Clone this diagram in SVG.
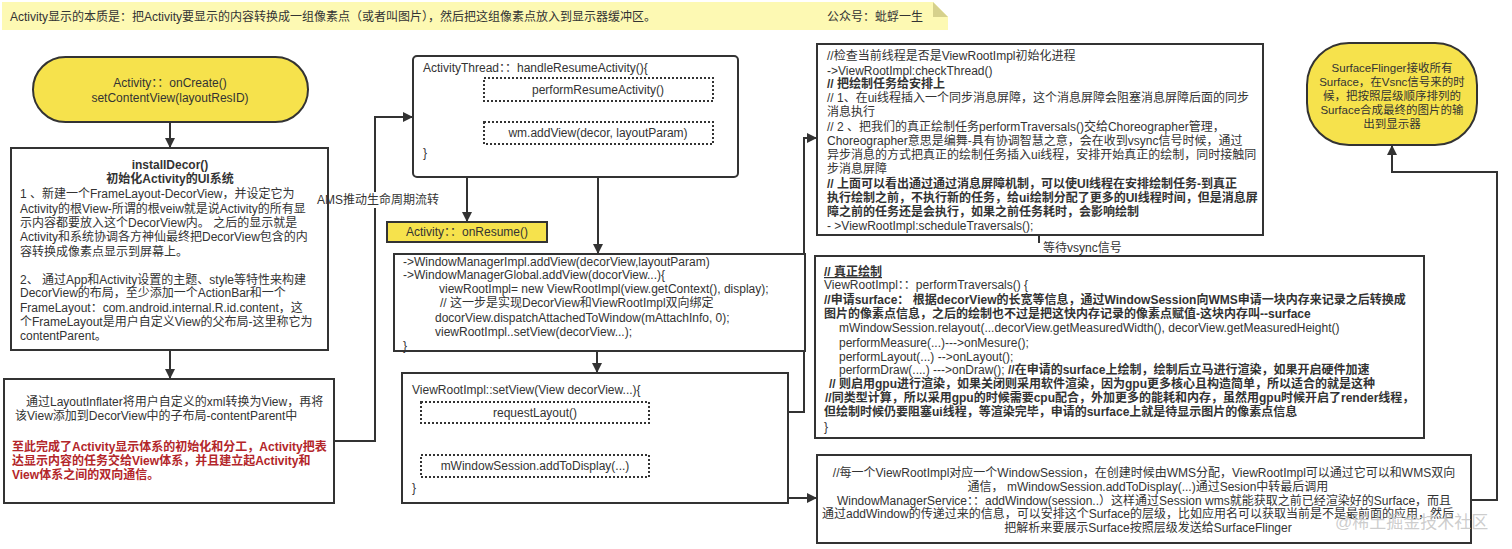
<svg xmlns="http://www.w3.org/2000/svg" width="1512" height="549" viewBox="0 0 1512 549">
<style>
.t{font-family:"Liberation Sans","Noto Sans CJK SC",sans-serif;font-size:12px;fill:#333}
.c{text-anchor:middle}
.b{font-weight:bold}
.red{fill:#b3262a;font-weight:bold}
.box{fill:#fff;stroke:#333;stroke-width:2}
.dot{fill:#fff;stroke:#333;stroke-width:2;stroke-dasharray:2 2}
.yel{fill:#f6e24c;stroke:#333;stroke-width:2}
.conn{fill:none;stroke:#333;stroke-width:2;marker-end:url(#ah)}
.bg{fill:#fff}
</style>
<defs>
<marker id="ah" markerUnits="userSpaceOnUse" markerWidth="10" markerHeight="10" refX="9" refY="5" orient="auto">
<path d="M0,0 L10,5 L0,10 Z" fill="#333"/>
</marker>
</defs>
<rect width="1512" height="549" fill="#fff"/>

<g id="banner">
<path d="M2,2 H933 L948,17 V30 H2 Z" fill="#fdf9b3"/>
<path d="M933,2 L948,17 H933 Z" fill="#d6d18c"/>
<text class="t" x="10" y="21">Activity显示的本质是：把Activity要显示的内容转换成一组像素点（或者叫图片），然后把这组像素点放入到显示器缓冲区。</text>
<text class="t" x="827" y="21">公众号：蚍蜉一生</text>
</g>

<g id="connectors">
<path class="conn" d="M170,122 V147"/>
<path class="conn" d="M170,350 V378"/>
<path class="conn" d="M334,441 H375 V117 H412"/>
<path class="conn" d="M598,101 V121"/>
<path class="conn" d="M484,90 H467 V221"/>
<path class="conn" d="M598,144 V253"/>
<path class="conn" d="M597,351 V372"/>
<path class="conn" d="M535,423 V454"/>
<path class="conn" d="M649,412 H804 V138 H816"/>
<path class="conn" d="M649,466 H733 V498 H816"/>
<path class="conn" d="M1039,235 V255"/>
<path class="conn" d="M1471,500 H1497 V172 H1392 V146"/>
</g>

<g id="onCreate">
<rect class="yel" x="33" y="57" width="275" height="65" rx="32.5"/>
<text class="t c" x="170" y="87">Activity：：onCreate()</text>
<text class="t c" x="170" y="102">setContentView(layoutResID)</text>
</g>

<g id="installDecor">
<rect class="box" x="11" y="148" width="317" height="202"/>
<text class="t c b" x="170" y="169">installDecor()</text>
<text class="t c b" x="170" y="183">初始化Activity的UI系统</text>
<text class="t" x="20" y="198">1 、新建一个FrameLayout-DecorView，并设定它为</text>
<text class="t" x="20" y="213">Activity的根View-所谓的根veiw就是说Activity的所有显</text>
<text class="t" x="20" y="227">示内容都要放入这个DecorView内。 之后的显示就是</text>
<text class="t" x="20" y="241">Activity和系统协调各方神仙最终把DecorView包含的内</text>
<text class="t" x="20" y="256">容转换成像素点显示到屏幕上。</text>
<text class="t" x="20" y="284">2、 通过App和Activity设置的主题、style等特性来构建</text>
<text class="t" x="20" y="297">DecorView的布局，至少添加一个ActionBar和一个</text>
<text class="t" x="20" y="312">FrameLayout：com.android.internal.R.id.content，这</text>
<text class="t" x="20" y="326">个FrameLayout是用户自定义View的父布局-这里称它为</text>
<text class="t" x="20" y="340">contentParent。</text>
</g>

<g id="inflater">
<rect class="box" x="4" y="379" width="330" height="124"/>
<text class="t" x="26" y="406">通过LayoutInflater将用户自定义的xml转换为View，再将</text>
<text class="t" x="15" y="420">该View添加到DecorView中的子布局-contentParent中</text>
<text class="t red" x="12" y="451">至此完成了Activity显示体系的初始化和分工，Activity把表</text>
<text class="t red" x="12" y="465">达显示内容的任务交给View体系，并且建立起Activity和</text>
<text class="t red" x="12" y="479">View体系之间的双向通信。</text>
</g>

<g id="handleResume">
<rect class="box" x="413" y="56" width="325" height="121" rx="4"/>
<text class="t" x="423" y="72">ActivityThread：：handleResumeActivity(){</text>
<text class="t" x="423" y="157">}</text>
</g>
<g id="performResume">
<rect class="dot" x="484" y="78" width="229" height="23"/>
<text class="t c" x="598" y="94">performResumeActivity()</text>
</g>
<g id="wmAddView">
<rect class="dot" x="484" y="122" width="229" height="22"/>
<text class="t c" x="598" y="137">wm.addView(decor, layoutParam)</text>
</g>

<g id="onResume">
<rect class="yel" x="387" y="222" width="160" height="20"/>
<text class="t c" x="467" y="236">Activity：：onResume()</text>
</g>

<g id="windowManager">
<rect class="box" x="394" y="254" width="411" height="97"/>
<text class="t" x="403" y="266">-&gt;WindowManagerImpl.addView(decorView,layoutParam)</text>
<text class="t" x="403" y="279">-&gt;WindowManagerGlobal.addView(docorView...){</text>
<text class="t" x="439" y="293">viewRootImpl= new ViewRootImpl(view.getContext(), display);</text>
<text class="t" x="440" y="307">// 这一步是实现DecorView和ViewRootImpl双向绑定</text>
<text class="t" x="435" y="322">docorView.dispatchAttachedToWindow(mAttachInfo, 0);</text>
<text class="t" x="435" y="336">viewRootImpl..setView(decorView...);</text>
<text class="t" x="403" y="350">}</text>
</g>

<g id="setView">
<rect class="box" x="402" y="373" width="386" height="130"/>
<text class="t" x="412" y="394">ViewRootImpl::setView(View decorView...){</text>
<text class="t" x="412" y="492">}</text>
</g>
<g id="requestLayout">
<rect class="dot" x="421" y="402" width="228" height="21"/>
<text class="t c" x="535" y="417">requestLayout()</text>
</g>
<g id="addToDisplay">
<rect class="dot" x="421" y="455" width="228" height="22"/>
<text class="t c" x="535" y="470">mWindowSession.addToDisplay(...)</text>
</g>

<g id="choreographer">
<rect class="box" x="817" y="44" width="446" height="191"/>
<text class="t" x="827" y="60">//检查当前线程是否是ViewRootImpl初始化进程</text>
<text class="t" x="827" y="75">-&gt;ViewRootImpl:checkThread()</text>
<text class="t b" x="827" y="88">// 把绘制任务给安排上</text>
<text class="t" x="827" y="102">// 1、在ui线程插入一个同步消息屏障，这个消息屏障会阻塞消息屏障后面的同步</text>
<text class="t" x="827" y="116">消息执行</text>
<text class="t" x="827" y="131">// 2 、把我们的真正绘制任务performTraversals()交给Choreographer管理，</text>
<text class="t" x="827" y="145">Choreographer意思是编舞-具有协调智慧之意，会在收到vsync信号时候，通过</text>
<text class="t" x="827" y="159">异步消息的方式把真正的绘制任务插入ui线程，安排开始真正的绘制，同时接触同</text>
<text class="t" x="827" y="173">步消息屏障</text>
<text class="t b" x="827" y="188">//  上面可以看出通过通过消息屏障机制，可以使UI线程在安排绘制任务-到真正</text>
<text class="t b" x="827" y="202">执行绘制之前，不执行新的任务，给ui绘制分配了更多的UI线程时间，但是消息屏</text>
<text class="t b" x="827" y="216">障之前的任务还是会执行，如果之前任务耗时，会影响绘制</text>
<text class="t" x="827" y="230">- &gt;ViewRootImpl:scheduleTraversals();</text>
</g>

<g id="traversals">
<rect class="box" x="815" y="256" width="609" height="182"/>
<text class="t b" x="824" y="276" text-decoration="underline">// 真正绘制</text>
<text class="t" x="824" y="289">ViewRootImpl：：performTraversals() {</text>
<text class="t b" x="824" y="304">//申请surface：  根据decorView的长宽等信息，通过WindowSession向WMS申请一块内存来记录之后转换成</text>
<text class="t b" x="824" y="318">图片的像素点信息，之后的绘制也不过是把这快内存记录的像素点赋值-这块内存叫--surface</text>
<text class="t" x="839" y="332">mWindowSession.relayout(...decorView.getMeasuredWidth(), decorView.getMeasuredHeight()</text>
<text class="t" x="839" y="347">performMeasure(...)---&gt;onMesure();</text>
<text class="t" x="839" y="361">performLayout(...) --&gt;onLayout();</text>
<text class="t" x="839" y="374">performDraw(....)    ---&gt;onDraw();  <tspan class="b">//在申请的surface上绘制，绘制后立马进行渲染，如果开启硬件加速</tspan></text>
<text class="t b" x="829" y="388">// 则启用gpu进行渲染，如果关闭则采用软件渲染，因为gpu更多核心且构造简单，所以适合的就是这种</text>
<text class="t b" x="825" y="402">//同类型计算，所以采用gpu的时候需要cpu配合，外加更多的能耗和内存，虽然用gpu时候开启了render线程，</text>
<text class="t b" x="824" y="416">但绘制时候仍要阻塞ui线程，等渲染完毕，申请的surface上就是待显示图片的像素点信息</text>
<text class="t" x="824" y="431">}</text>
</g>

<g id="wms">
<rect class="box" x="817" y="455" width="654" height="88"/>
<text class="t c" x="1144" y="477">//每一个ViewRootImpl对应一个WindowSession，在创建时候由WMS分配，ViewRootImpl可以通过它可以和WMS双向</text>
<text class="t c" x="1148" y="491">通信，    mWindowSession.addToDisplay(...)通过Sesion中转最后调用</text>
<text class="t c" x="1144" y="505">WindowManagerService：：addWindow(session..）这样通过Session wms就能获取之前已经渲染好的Surface，而且</text>
<text class="t c" x="1138" y="518">通过addWindow的传递过来的信息，可以安排这个Surface的层级，比如应用名可以获取当前是不是最前面的应用，然后</text>
<text class="t c" x="1148" y="532">把解析来要展示Surface按照层级发送给SurfaceFlinger</text>
</g>

<g id="surfaceFlinger">
<rect class="yel" x="1307" y="43" width="170" height="102" rx="42"/>
<text class="t c" x="1392" y="72" style="font-size:11.5px">SurfaceFlinger接收所有</text>
<text class="t c" x="1392" y="86" style="font-size:11.5px">Surface，在Vsnc信号来的时</text>
<text class="t c" x="1392" y="100" style="font-size:11.5px">候，把按照层级顺序排列的</text>
<text class="t c" x="1392" y="114" style="font-size:11.5px">Surface合成最终的图片的输</text>
<text class="t c" x="1392" y="128" style="font-size:11.5px">出到显示器</text>
</g>

<g id="connector-labels">
<rect class="bg" x="330" y="192" width="109" height="16"/>
<text class="t" x="317" y="204">AMS推动生命周期流转</text>
<rect class="bg" x="1033" y="243" width="92" height="12"/>
<text class="t" x="1043" y="252">等待vsync信号</text>
</g>

<text x="1335" y="528" style="font-family:'Liberation Sans','Noto Sans CJK SC',sans-serif;font-size:17px;fill:#c4c4c4;fill-opacity:0.85">@稀土掘金技术社区</text>
</svg>
